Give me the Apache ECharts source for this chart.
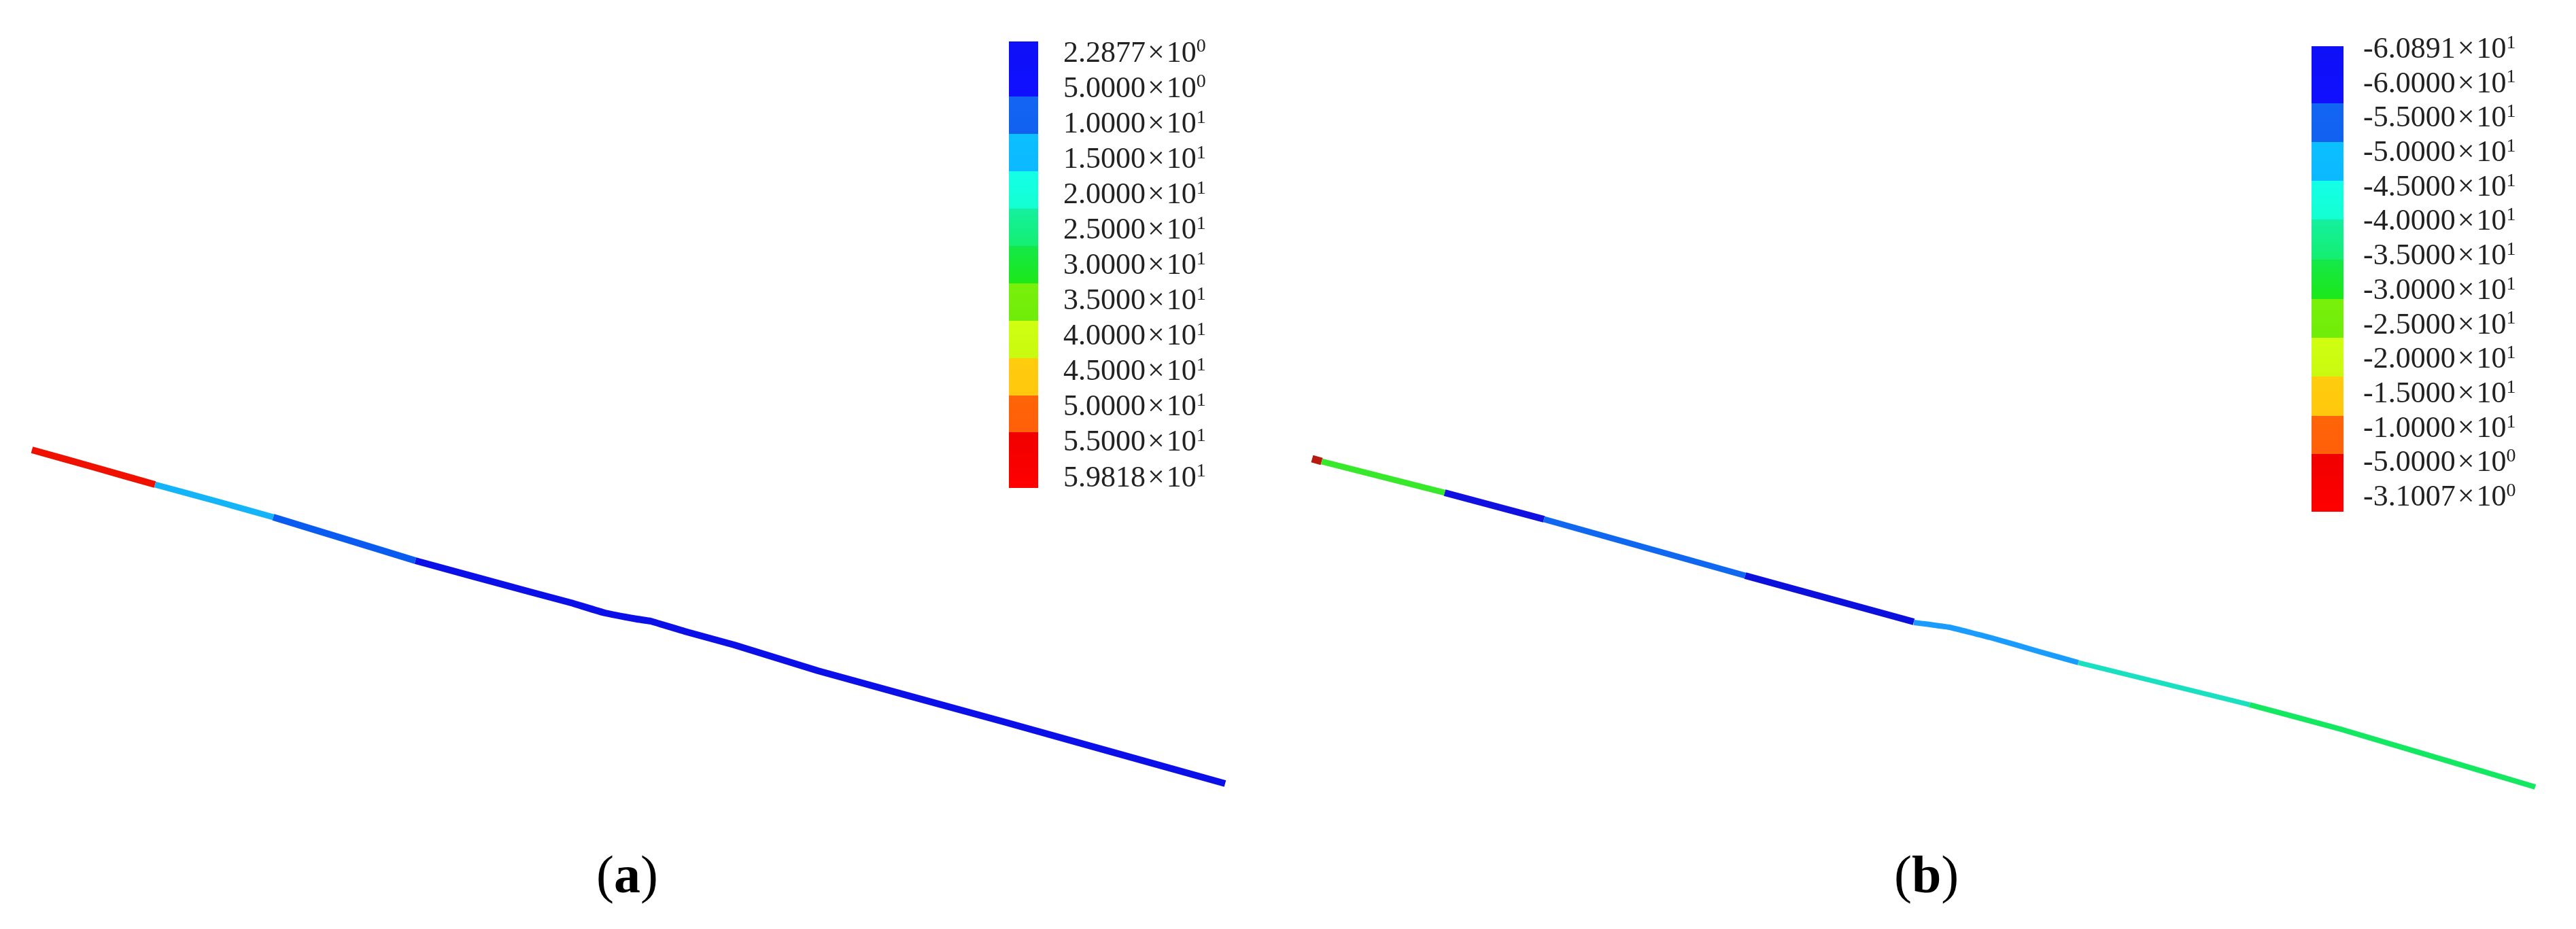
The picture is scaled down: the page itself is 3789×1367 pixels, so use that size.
<!DOCTYPE html>
<html>
<head>
<meta charset="utf-8">
<style>html,body{margin:0;padding:0;background:#fff}#c{width:3789px;height:1367px}</style>
<script src="https://cdn.jsdelivr.net/npm/echarts@6/dist/echarts.min.js"></script>
</head>
<body>
<div id="c"></div>
<script>
// Colour bands of the contour scale, top to bottom (each shades slightly from top to bottom)
const bandTop = ['#0e10f6','#1266f2','#0cc0ff','#14ffe8','#14f0a0','#14e84a','#78f00a','#d0ff10','#ffcc0e','#ff6408','#f00000'];
const bandBottom = ['#1010ff','#1260f0','#0cb8ff','#14ffd0','#14ee70','#1ce818','#70ec0a','#c8fa10','#ffc80e','#ff6008','#ff0000'];

// Scale (a)
const labelsA = ['2.2877','5.0000','1.0000','1.5000','2.0000','2.5000','3.0000','3.5000','4.0000','4.5000','5.0000','5.5000','5.9818'];
const expsA = [0,0,1,1,1,1,1,1,1,1,1,1,1];
const bandSizesA = [81,55,55,55,55,55,55,55,55,54,82];

// Scale (b)
const labelsB = ['-6.0891','-6.0000','-5.5000','-5.0000','-4.5000','-4.0000','-3.5000','-3.0000','-2.5000','-2.0000','-1.5000','-1.0000','-5.0000','-3.1007'];
const expsB = [1,1,1,1,1,1,1,1,1,1,1,1,0,0];
const bandSizesB = [84,57,57,57,59,58,57,57,58,56,85];

// Beam (a): stretches of [along, drop]
const beamA = [
  {color:'#f01000', width:10, pts:[[47,662],[140,688],[228,713]]},
  {color:'#14b4f8', width:9, pts:[[228,713],[320,738],[402,761]]},
  {color:'#0a5cf0', width:10, pts:[[402,761],[510,794],[611,825]]},
  {color:'#0c10e8', width:10, pts:[[611,825],[780,871],[840,887],[890,902],[937,911],[957,914],[1007,929],[1080,949],[1203,987],[1476,1062],[1802,1153]]}
];
// Beam (b)
const beamB = [
  {color:'#b81a10', width:11, pts:[[35,675],[49,679]]},
  {color:'#38e82a', width:9, pts:[[49,679],[230,725]]},
  {color:'#1010e0', width:10, pts:[[230,725],[376,764]]},
  {color:'#1068f0', width:9, pts:[[376,764],[672,847]]},
  {color:'#0c10dc', width:10, pts:[[672,847],[920,915]]},
  {color:'#1a9cff', width:8, pts:[[920,916],[972,923],[1032,938],[1105,959],[1162,975]]},
  {color:'#18e0c0', width:7, pts:[[1162,975],[1414,1037]]},
  {color:'#14e860', width:8, pts:[[1414,1037],[1548,1073],[1834,1158]]}
];

const FW = 3789, FH = 1367, SPLIT = 1895;
const serif = '"Liberation Serif","Times New Roman",serif';

function beamSeries(beam, idx){
  return beam.map(s => ({
    type:'line', xAxisIndex:idx, yAxisIndex:idx, data:s.pts, showSymbol:false, silent:true,
    smooth:0.12,
    lineStyle:{color:s.color, width:s.width, cap:'butt', join:'round'}
  }));
}
function bandSeries(sizes, idx, stack){
  return sizes.map((v,i) => ({
    type:'bar', stack:stack, xAxisIndex:idx, yAxisIndex:idx, data:[v], barWidth:'100%', silent:true,
    itemStyle:{color:{type:'linear',x:0,y:0,x2:0,y2:1,colorStops:[{offset:0,color:bandTop[i]},{offset:1,color:bandBottom[i]}]}}
  }));
}
const hiddenVal = (o) => Object.assign({type:'value', show:false, splitLine:{show:false}}, o);
function labelAxis(idx, labels, exps){
  return {
    type:'category', gridIndex:idx, inverse:true, position:'right', data:labels.map((l,i)=>l+'|'+exps[i]),
    axisLine:{show:false}, axisTick:{show:false}, splitLine:{show:false},
    axisLabel:{
      interval:0, margin:0, align:'left', color:'#222',
      formatter:v=>{const [m,e]=v.split('|');return '{m|'+m+'}{x|×}{m|10}{s|'+e+'}';},
      rich:{
        m:{fontFamily:serif,fontSize:44,lineHeight:46,color:'#222',verticalAlign:'bottom'},
        x:{fontFamily:serif,fontSize:44,lineHeight:46,color:'#222',verticalAlign:'bottom',padding:[0,3,0,3]},
        s:{fontFamily:serif,fontSize:28,lineHeight:27,color:'#222',verticalAlign:'top'}
      }
    }
  };
}
const capRich = {
  r:{fontFamily:serif,fontSize:78,fontWeight:'normal',color:'#000'},
  b:{fontFamily:serif,fontSize:78,fontWeight:'bold',color:'#000'}
};
const chart = echarts.init(document.getElementById('c'), null, {renderer:'canvas'});
chart.setOption({
  backgroundColor:'#fff',
  animation:false,
  title:[
    {text:'{r|(}{b|a}{r|)}', left:872, top:1249, textStyle:{fontWeight:'normal',rich:capRich}},
    {text:'{r|(}{b|b}{r|)}', left:2781, top:1249, textStyle:{fontWeight:'normal',rich:capRich}}
  ],
  grid:[
    {left:0, top:0, width:SPLIT, height:FH},
    {left:SPLIT, top:0, width:FW-SPLIT, height:FH},
    {left:1484, top:61, width:43, height:657},
    {left:3400, top:68, width:47, height:685},
    {left:1563, top:52, width:1, height:677},
    {left:3475, top:47, width:1, height:710}
  ],
  xAxis:[
    hiddenVal({gridIndex:0,min:0,max:SPLIT}),
    hiddenVal({gridIndex:1,min:0,max:FW-SPLIT}),
    {type:'category',gridIndex:2,data:['scale'],show:false},
    {type:'category',gridIndex:3,data:['scale'],show:false},
    hiddenVal({gridIndex:4,min:0,max:1}),
    hiddenVal({gridIndex:5,min:0,max:1})
  ],
  yAxis:[
    hiddenVal({gridIndex:0,min:0,max:FH,inverse:true}),
    hiddenVal({gridIndex:1,min:0,max:FH,inverse:true}),
    hiddenVal({gridIndex:2,min:0,max:657,inverse:true}),
    hiddenVal({gridIndex:3,min:0,max:685,inverse:true}),
    labelAxis(4,labelsA,expsA),
    labelAxis(5,labelsB,expsB)
  ],
  series:[
    ...beamSeries(beamA,0),
    ...beamSeries(beamB,1),
    ...bandSeries(bandSizesA,2,'a'),
    ...bandSeries(bandSizesB,3,'b')
  ]
});
</script>
</body>
</html>
